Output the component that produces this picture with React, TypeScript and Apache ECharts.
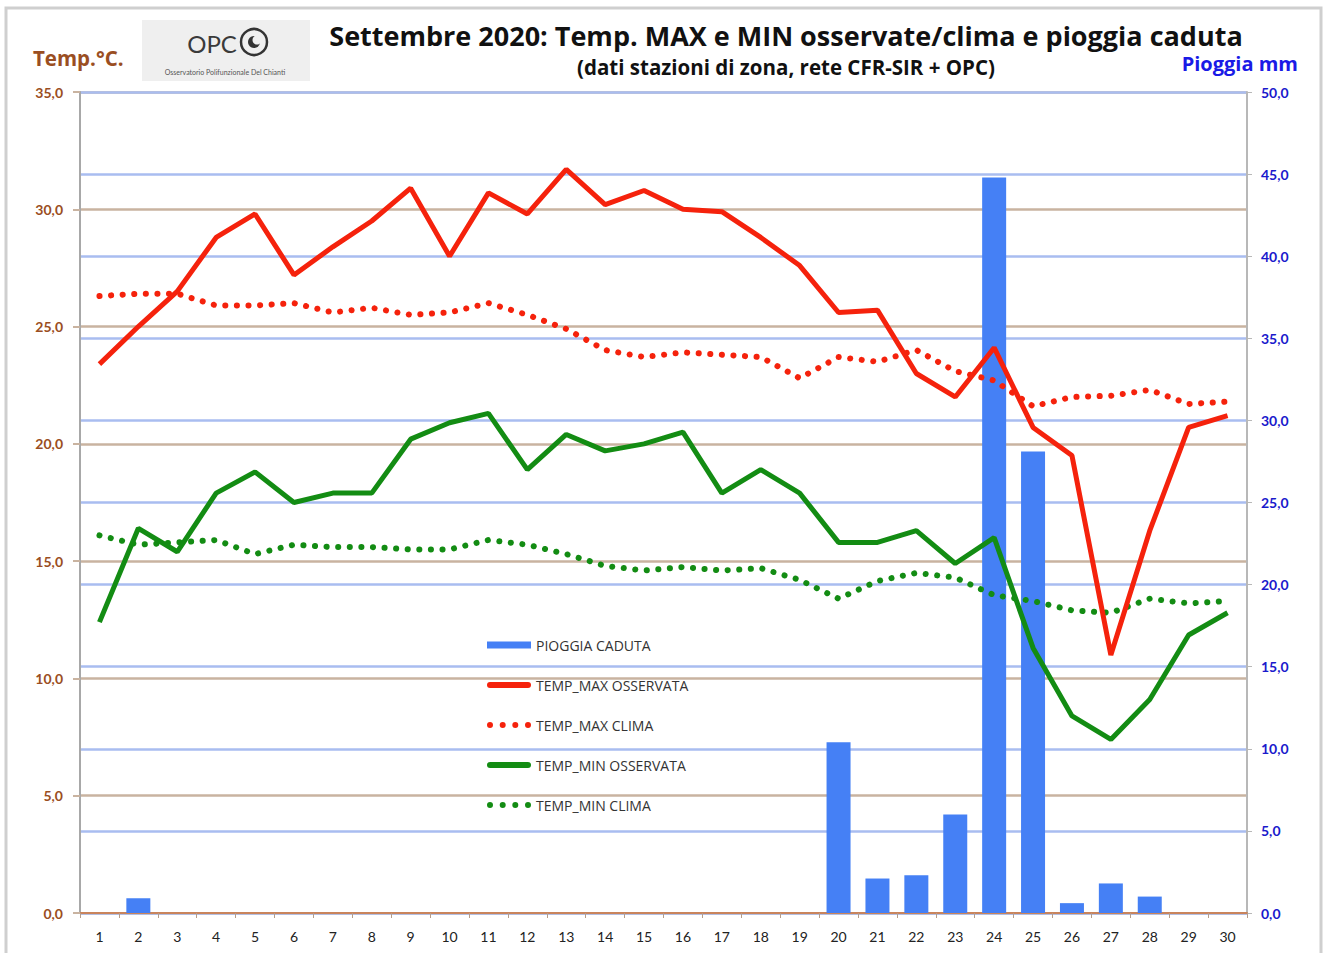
import React, { useEffect, useRef } from "react";
import * as echarts from "echarts";

const days = ["1","2","3","4","5","6","7","8","9","10","11","12","13","14","15","16","17","18","19","20","21","22","23","24","25","26","27","28","29","30"];

const rainMm = [0, 0.9, 0, 0, 0, 0, 0, 0, 0, 0, 0, 0, 0, 0, 0, 0, 0, 0, 0, 10.4, 2.1, 2.3, 6.0, 44.8, 28.1, 0.6, 1.8, 1.0, 0, 0];

const tMaxObs = [23.4, 25.0, 26.5, 28.8, 29.8, 27.2, 28.4, 29.5, 30.9, 28.0, 30.7, 29.8, 31.7, 30.2, 30.8, 30.0, 29.9, 28.8, 27.6, 25.6, 25.7, 23.0, 22.0, 24.1, 20.7, 19.5, 11.0, 16.3, 20.7, 21.2];

const tMaxClima = [26.3, 26.4, 26.4, 25.9, 25.9, 26.0, 25.6, 25.8, 25.5, 25.6, 26.0, 25.5, 24.9, 24.0, 23.7, 23.9, 23.8, 23.7, 22.8, 23.7, 23.5, 24.0, 23.1, 22.7, 21.6, 22.0, 22.05, 22.3, 21.7, 21.8];

const tMinObs = [12.4, 16.4, 15.4, 17.9, 18.8, 17.5, 17.9, 17.9, 20.2, 20.9, 21.3, 18.9, 20.4, 19.7, 20.0, 20.5, 17.9, 18.9, 17.9, 15.8, 15.8, 16.3, 14.9, 16.0, 11.3, 8.4, 7.4, 9.1, 11.85, 12.8];

const tMinClima = [16.1, 15.7, 15.8, 15.9, 15.3, 15.7, 15.6, 15.6, 15.5, 15.5, 15.9, 15.7, 15.3, 14.8, 14.6, 14.75, 14.6, 14.7, 14.2, 13.4, 14.15, 14.5, 14.3, 13.55, 13.3, 12.9, 12.8, 13.4, 13.2, 13.3];

const seriesNames = ["PIOGGIA CADUTA", "TEMP_MAX OSSERVATA", "TEMP_MAX CLIMA", "TEMP_MIN OSSERVATA", "TEMP_MIN CLIMA"];

const titleText = "Settembre 2020: Temp. MAX e MIN osservate/clima e pioggia caduta";
const subtitleText = "(dati stazioni di zona, rete CFR-SIR + OPC)";

const FONT = "'Open Sans', Lato, sans-serif";
const RED = "#f5220c";
const GREEN = "#138c13";
const BLUE = "#4580f5";
const BROWN = "#9a4e22";
const TAN = "#c9b3a0";
const LIGHTBLUE = "#a9bdf0";

// legend icons (shape only)
const ICON_SOLID = "path://M3,0 L41,0 A3,3 0 0 1 41,6 L3,6 A3,3 0 0 1 3,0 Z";
const ICON_DOTS =
  "path://M0,3 a3,3 0 1 0 6,0 a3,3 0 1 0 -6,0 Z M12.7,3 a3,3 0 1 0 6,0 a3,3 0 1 0 -6,0 Z M25.3,3 a3,3 0 1 0 6,0 a3,3 0 1 0 -6,0 Z M38,3 a3,3 0 1 0 6,0 a3,3 0 1 0 -6,0 Z";

const fmt = (v: number) => v.toFixed(1).replace(".", ",");

export default function App() {
  const ref = useRef<HTMLDivElement>(null);
  useEffect(() => {
    if (!ref.current) return;
    const chart = echarts.init(ref.current, undefined, { renderer: "svg" });
    const dotted = { type: [0.1, 11.5] as any, cap: "round" as any, width: 6 };
    chart.setOption({
      animation: false,
      backgroundColor: "#ffffff",
      textStyle: { fontFamily: FONT },
      grid: { left: 80, right: 79, top: 92, bottom: 40, containLabel: false },
      legend: {
        orient: "vertical",
        left: 482,
        top: 633,
        itemWidth: 44,
        itemHeight: 7,
        itemGap: 26,
        data: [
          { name: seriesNames[0], icon: "rect" },
          { name: seriesNames[1], icon: ICON_SOLID },
          { name: seriesNames[2], icon: ICON_DOTS },
          { name: seriesNames[3], icon: ICON_SOLID },
          { name: seriesNames[4], icon: ICON_DOTS },
        ],
        textStyle: { fontFamily: FONT, fontSize: 14, color: "#333333", padding: [0, 0, 0, 0] },
      },
      xAxis: {
        type: "category",
        data: days,
        boundaryGap: true,
        axisLine: { lineStyle: { color: "#c9845c", width: 2 } },
        axisTick: { show: true, length: 5, lineStyle: { color: "#b59c8a" } },
        axisLabel: { color: "#222222", fontSize: 14, fontFamily: "Lato, sans-serif", margin: 16 },
        splitLine: { show: false },
      },
      yAxis: [
        {
          type: "value",
          min: 0,
          max: 35,
          interval: 5,
          position: "left",
          axisLine: { show: true, lineStyle: { color: "#a8a8a8", width: 2 } },
          axisTick: { show: true, length: 7, lineStyle: { color: TAN, width: 2 } },
          axisLabel: { color: BROWN, fontSize: 14, fontWeight: "bold", fontFamily: "Lato, sans-serif", formatter: fmt, margin: 17 },
          splitLine: { show: true, lineStyle: { color: TAN, width: 2.5 } },
        },
        {
          type: "value",
          min: 0,
          max: 50,
          interval: 5,
          position: "right",
          axisLine: { show: true, lineStyle: { color: "#b8b8b8", width: 2 } },
          axisTick: { show: true, length: 5, lineStyle: { color: "#b8b8b8" } },
          axisLabel: { color: "#1a1acc", fontSize: 14, fontWeight: "bold", fontFamily: "Lato, sans-serif", formatter: fmt, margin: 14 },
          splitLine: { show: true, lineStyle: { color: LIGHTBLUE, width: 2.5 } },
        },
      ],
      series: [
        {
          name: seriesNames[0],
          type: "bar",
          yAxisIndex: 1,
          data: rainMm,
          barWidth: 24,
          itemStyle: { color: BLUE },
          z: 2,
        },
        {
          name: seriesNames[1],
          type: "line",
          data: tMaxObs,
          showSymbol: false,
          symbol: "none",
          lineStyle: { color: RED, width: 5 },
          itemStyle: { color: RED },
          z: 5,
        },
        {
          name: seriesNames[2],
          type: "line",
          data: tMaxClima,
          showSymbol: false,
          symbol: "none",
          lineStyle: { color: RED, ...dotted },
          itemStyle: { color: RED },
          z: 4,
        },
        {
          name: seriesNames[3],
          type: "line",
          data: tMinObs,
          showSymbol: false,
          symbol: "none",
          lineStyle: { color: GREEN, width: 5 },
          itemStyle: { color: GREEN },
          z: 5,
        },
        {
          name: seriesNames[4],
          type: "line",
          data: tMinClima,
          showSymbol: false,
          symbol: "none",
          lineStyle: { color: GREEN, ...dotted },
          itemStyle: { color: GREEN },
          z: 4,
        },
      ],
      graphic: [
        {
          type: "rect",
          shape: { x: 6, y: 8, width: 1315, height: 960 },
          style: { fill: "none", stroke: "#cfcfcf", lineWidth: 3 },
          silent: true,
          z: 0,
        },
        {
          type: "rect",
          shape: { x: 142, y: 20, width: 168, height: 61 },
          style: { fill: "#efefef" },
          z: 1,
        },
        {
          type: "text",
          x: 212,
          y: 43,
          style: { text: "OPC", fontSize: 24, fontFamily: "Lato, sans-serif", fill: "#3a3a3a", textAlign: "center", textVerticalAlign: "middle" },
          z: 2,
        },
        {
          type: "circle",
          shape: { cx: 254, cy: 42, r: 13 },
          style: { fill: "none", stroke: "#333333", lineWidth: 2.5 },
          z: 2,
        },
        {
          type: "circle",
          shape: { cx: 254, cy: 42, r: 6 },
          style: { fill: "#333333" },
          z: 2,
        },
        {
          type: "circle",
          shape: { cx: 257, cy: 40, r: 4.5 },
          style: { fill: "#efefef" },
          z: 3,
        },
        {
          type: "text",
          x: 225,
          y: 72,
          style: { text: "Osservatorio Polifunzionale Del Chianti", fontSize: 7, fontFamily: "Lato, sans-serif", fill: "#555555", textAlign: "center", textVerticalAlign: "middle" },
          z: 2,
        },
        {
          type: "text",
          x: 33,
          y: 58,
          style: { text: "Temp.°C.", fontSize: 20.5, fontWeight: "bold", fontFamily: FONT, fill: BROWN, textAlign: "left", textVerticalAlign: "middle" },
        },
        {
          type: "text",
          x: 786,
          y: 35,
          style: { text: titleText, fontSize: 27, lineHeight: 27, fontWeight: "bold", fontFamily: FONT, fill: "#111111", textAlign: "center", textVerticalAlign: "middle" },
        },
        {
          type: "text",
          x: 786,
          y: 67,
          style: { text: subtitleText, fontSize: 20.5, lineHeight: 20, fontWeight: "bold", fontFamily: FONT, fill: "#111111", textAlign: "center", textVerticalAlign: "middle" },
        },
        {
          type: "text",
          x: 1298,
          y: 63,
          style: { text: "Pioggia mm", fontSize: 20, lineHeight: 20, fontWeight: "bold", fontFamily: FONT, fill: "#1a1ae6", textAlign: "right", textVerticalAlign: "middle" },
        },
      ],
    });
    return () => chart.dispose();
  }, []);
  return <div ref={ref} style={{ position: "fixed", left: 0, top: 0, width: 1326, height: 953 }} />;
}
